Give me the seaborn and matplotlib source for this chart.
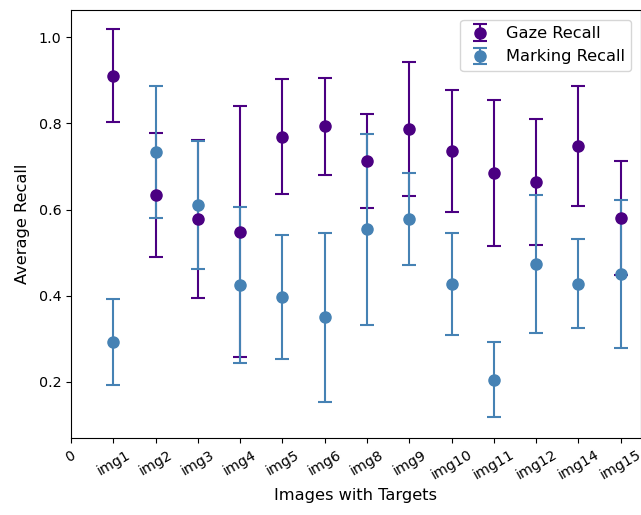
import matplotlib
matplotlib.use("Agg")
import matplotlib.pyplot as plt
import seaborn as sns
import numpy as np

images = ["img1", "img2", "img3", "img4", "img5", "img6", "img8", "img9",
          "img10", "img11", "img12", "img14", "img15"]
gaze_recall = [0.910, 0.634, 0.578, 0.549, 0.769, 0.793, 0.712, 0.787,
               0.736, 0.685, 0.664, 0.747, 0.580]
gaze_err = [0.108, 0.143, 0.183, 0.292, 0.134, 0.113, 0.109, 0.156,
            0.141, 0.170, 0.146, 0.139, 0.132]
marking_recall = [0.293, 0.733, 0.610, 0.426, 0.398, 0.350, 0.554, 0.578,
                  0.428, 0.205, 0.474, 0.428, 0.450]
marking_err = [0.099, 0.153, 0.148, 0.181, 0.144, 0.196, 0.222, 0.107,
               0.118, 0.087, 0.160, 0.103, 0.172]
tick_labels = ["0"] + images

sns.set_style("ticks", {"axes.edgecolor": "black", "text.color": "black",
                        "axes.labelcolor": "black", "xtick.color": "black",
                        "ytick.color": "black"})
plt.rcParams['font.family'] = ['DejaVu Sans']

fig = plt.figure(figsize=(6.41, 5.15), dpi=100)
ax = fig.add_axes([71 / 641, 1 - 438 / 515, 1 - 71 / 641, (438 - 10) / 515])

x = np.arange(1, len(images) + 1)
ax.errorbar(x, gaze_recall, yerr=gaze_err, fmt='o', color='#4B0082',
            ecolor='#4B0082', markersize=8, capsize=5, elinewidth=1.5,
            capthick=1.5, label='Gaze Recall')
ax.errorbar(x, marking_recall, yerr=marking_err, fmt='o', color='#4682B4',
            ecolor='#4682B4', markersize=8, capsize=5, elinewidth=1.5,
            capthick=1.5, label='Marking Recall')

ax.set_xlim(0, 13.48)
ax.set_ylim(0.07, 1.063)
ax.set_xticks(np.arange(0, len(images) + 1))
ax.set_xticklabels(tick_labels, rotation=30, fontsize=10.3)
ax.set_yticks([0.2, 0.4, 0.6, 0.8, 1.0])
ax.set_yticklabels(["0.2", "0.4", "0.6", "0.8", "1.0"], fontsize=10.3)
ax.set_xlabel("Images with Targets", fontsize=11.7)
ax.set_ylabel("Average Recall", fontsize=11.7, labelpad=6)
ax.legend(loc='upper right', fontsize=11.7, frameon=True, handlelength=1.6,
          borderaxespad=0.6)

fig.savefig("out.png", dpi=100)
